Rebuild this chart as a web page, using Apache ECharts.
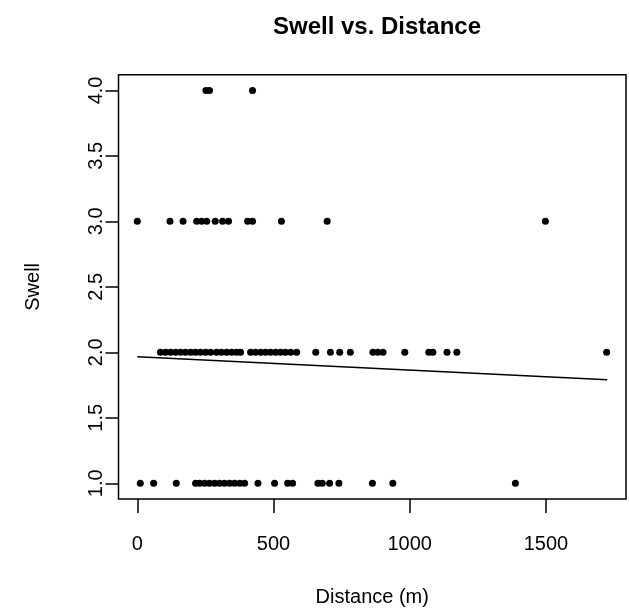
<!DOCTYPE html>
<html>
<head>
<meta charset="utf-8">
<script src="https://cdn.jsdelivr.net/npm/echarts@6/dist/echarts.min.js"></script>
<style>html,body{margin:0;padding:0;background:#fff}#c{width:629px;height:612px}</style>
</head>
<body>
<div id="c"></div>
<script>
// Distance (m) values per swell level
const swell4Dist = [252, 265, 423];
const swell3Dist = [0, 120, 168, 218, 236, 255, 286, 313, 335, 405, 423, 529, 697, 1498];
const swell2Dist = [85, 104, 122, 141, 159, 177, 196, 214, 232, 251, 269, 291, 309, 328, 346, 364, 379,
  416, 434, 453, 471, 489, 508, 526, 544, 563, 585, 655, 709, 743, 782, 865, 883, 902, 982, 1070, 1085, 1137, 1173, 1723];
const swell1Dist = [11, 60, 143, 214, 229, 247, 265, 284, 302, 320, 339, 357, 376, 394, 443, 504, 552, 570, 663, 679, 706, 740, 863, 938, 1388];
// Fitted line endpoints (distance, swell)
const fitDist = [0, 1725];
const fitSwell = [1.967, 1.790];
const xTicks = [0, 500, 1000, 1500];
const yTicks = [1.0, 1.5, 2.0, 2.5, 3.0, 3.5, 4.0];

const pts = [];
swell4Dist.forEach(d => pts.push([d, 4]));
swell3Dist.forEach(d => pts.push([d, 3]));
swell2Dist.forEach(d => pts.push([d, 2]));
swell1Dist.forEach(d => pts.push([d, 1]));
const fit = fitDist.map((d, i) => [d, fitSwell[i]]);

const font = 'Liberation Sans, Arial, Helvetica, sans-serif';
const chart = echarts.init(document.getElementById('c'), null, {renderer: 'canvas'});
chart.setOption({
  animation: false,
  backgroundColor: '#fff',
  title: {
    text: 'Swell vs. Distance', left: 372, top: 10, textAlign: 'center',
    textStyle: {fontFamily: font, fontWeight: 'bold', fontSize: 24, color: '#000'}
  },
  grid: {left: 118.5, right: 3, top: 74.7, bottom: 110.3, show: true, borderColor: '#000', borderWidth: 1.5, backgroundColor: 'transparent'},
  xAxis: {
    type: 'value', min: -69, max: 1794,
    name: 'Distance (m)', nameLocation: 'middle', nameGap: 88,
    nameTextStyle: {fontFamily: font, fontSize: 20, color: '#000'},
    axisLine: {show: false, onZero: false}, splitLine: {show: false},
    axisTick: {show: true, inside: false, length: 14, customValues: xTicks, lineStyle: {color: '#000', width: 1.5}},
    axisLabel: {customValues: xTicks, margin: 35, fontFamily: font, fontSize: 20, color: '#000',
      formatter: v => String(v)}
  },
  yAxis: {
    type: 'value', min: 0.88, max: 4.12,
    name: 'Swell', nameLocation: 'middle', nameGap: 75,
    nameTextStyle: {fontFamily: font, fontSize: 20, color: '#000'},
    axisLine: {show: false, onZero: false}, splitLine: {show: false},
    axisTick: {show: true, inside: false, length: 13, customValues: yTicks, lineStyle: {color: '#000', width: 1.5}},
    axisLabel: {customValues: yTicks, rotate: 90, margin: 12, fontFamily: font, fontSize: 20, color: '#000',
      formatter: v => v.toFixed(1)}
  },
  series: [
    {type: 'scatter', data: pts, symbol: 'circle', symbolSize: 7, itemStyle: {color: '#000', opacity: 1}},
    {type: 'line', data: fit, showSymbol: false, lineStyle: {color: '#000', width: 1.5}}
  ]
});
</script>
</body>
</html>
